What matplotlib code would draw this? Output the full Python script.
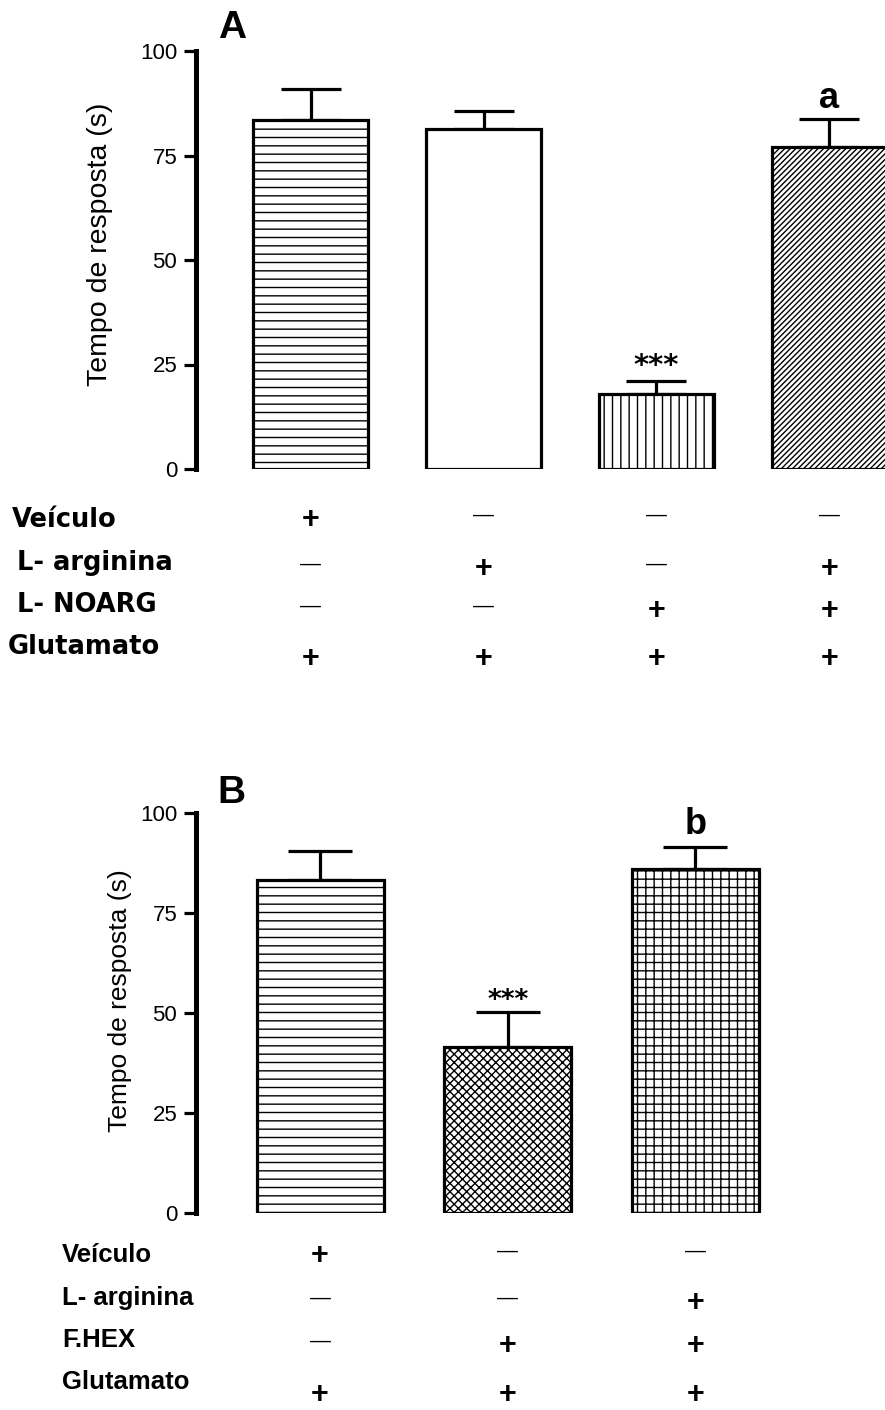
import matplotlib
matplotlib.use("Agg")
import matplotlib.pyplot as plt
import matplotlib.transforms as mtransforms

plt.rcParams['font.family'] = ['Liberation Sans', 'DejaVu Sans']
plt.rcParams['hatch.linewidth'] = 1.0

# panel A data
a_means = [83.5, 81.3, 17.9, 77.0]
a_errs = [7.4, 4.3, 3.2, 6.7]
a_hatches = ['--', '', '||', '//////']
a_marks = ['', '', '***', 'a']
a_rows = ['Veículo', 'L- arginina', 'L- NOARG', 'Glutamato']
a_table = [['+', '-', '-', '-'],
           ['-', '+', '-', '+'],
           ['-', '-', '+', '+'],
           ['+', '+', '+', '+']]

# panel B data
b_means = [83.25, 41.5, 86.0]
b_errs = [7.25, 8.7, 5.5]
b_hatches = ['--', 'xxxx', '++']
b_marks = ['', '***', 'b']
b_rows = ['Veículo', 'L- arginina', 'F.HEX', 'Glutamato']
b_table = [['+', '-', '-'],
           ['-', '-', '+'],
           ['-', '+', '+'],
           ['+', '+', '+']]

yticks = [0, 25, 50, 75, 100]

W, H = 885, 1410
fig = plt.figure(figsize=(W / 100, H / 100), dpi=100)


def fy(px):
    return 1 - px / H


def draw_panel(ax, means, errs, hatches, width, capsize, xlim):
    x = list(range(len(means)))
    ax.bar(x, means, width=width, color='white', edgecolor='black',
           linewidth=2.3, hatch=hatches, zorder=3)
    # only the upper half of the error bar is shown
    ax.errorbar(x, means, yerr=[[0] * len(errs), errs], fmt='none',
                ecolor='black', elinewidth=2.3, capsize=capsize,
                capthick=2.3, zorder=2)
    ax.set_xlim(*xlim)
    ax.set_ylim(0, 100)
    ax.set_yticks(yticks)
    ax.set_xticks([])
    for s in ['top', 'right', 'bottom']:
        ax.spines[s].set_visible(False)
    ax.spines['left'].set_linewidth(3.6)
    ax.tick_params(axis='y', length=8.5, width=2.3, labelsize=16, pad=5)


def draw_table(ax, rows, table, label_x, label_y, sym_y, family, size):
    trans = mtransforms.blended_transform_factory(ax.transData, fig.transFigure)
    for i, name in enumerate(rows):
        fig.text(label_x[i] / W, fy(label_y[i]), name, fontsize=size,
                 fontweight='bold', family=family, ha='left', va='center')
        for j, s in enumerate(table[i]):
            if s == '+':
                ax.text(j, fy(sym_y[i]), '+', transform=trans, fontsize=22,
                        fontweight='bold', ha='center', va='center',
                        family='Liberation Sans', clip_on=False)
            else:
                ax.text(j, fy(sym_y[i] - 5), '\u2014', transform=trans,
                        fontsize=15, ha='center', va='center',
                        family='Liberation Sans', clip_on=False)


# panel A
axA = fig.add_axes([196 / W, fy(469), (W - 196) / W, (469 - 51) / H])
draw_panel(axA, a_means, a_errs, a_hatches, 0.665, 21.5, (-0.662, 3.321))
axA.text(-0.139, 0.538, 'Tempo de resposta (s)', transform=axA.transAxes,
         rotation=90, ha='center', va='center', fontsize=20.5)
for i, m in enumerate(a_marks):
    if m:
        axA.annotate(m, (i, a_means[i] + a_errs[i]), xytext=(0, 15 if m == 'a' else 11),
                     textcoords='offset points', ha='center', va='center',
                     fontsize=26 if m == 'a' else 21, fontweight='bold',
                     family='Liberation Sans' if m == 'a' else 'DejaVu Sans')
fig.text(232 / W, fy(28), 'A', fontsize=28, fontweight='bold', ha='center', va='center')
draw_table(axA, a_rows, a_table, [12, 17, 17, 8], [520, 563, 605, 647],
           [520, 569, 611, 659], 'DejaVu Sans', 18.5)

# panel B
axB = fig.add_axes([196 / W, fy(1213), (W - 196) / W, 400 / H])
draw_panel(axB, b_means, b_errs, b_hatches, 0.677, 23, (-0.661, 3.01))
axB.text(-0.110, 0.53, 'Tempo de resposta (s)', transform=axB.transAxes,
         rotation=90, ha='center', va='center', fontsize=19)
for i, m in enumerate(b_marks):
    if m:
        axB.annotate(m, (i, b_means[i] + b_errs[i]), xytext=(0, 16 if m == 'b' else 8),
                     textcoords='offset points', ha='center', va='center',
                     fontsize=26 if m == 'b' else 19, fontweight='bold',
                     family='Liberation Sans' if m == 'b' else 'DejaVu Sans')
fig.text(231 / W, fy(793), 'B', fontsize=28, fontweight='bold', ha='center', va='center')
draw_table(axB, b_rows, b_table, [62, 62, 62, 62], [1255, 1298, 1340, 1382],
           [1256, 1303, 1346, 1395], 'Liberation Sans', 18.5)

fig.savefig('out.png', dpi=100)
